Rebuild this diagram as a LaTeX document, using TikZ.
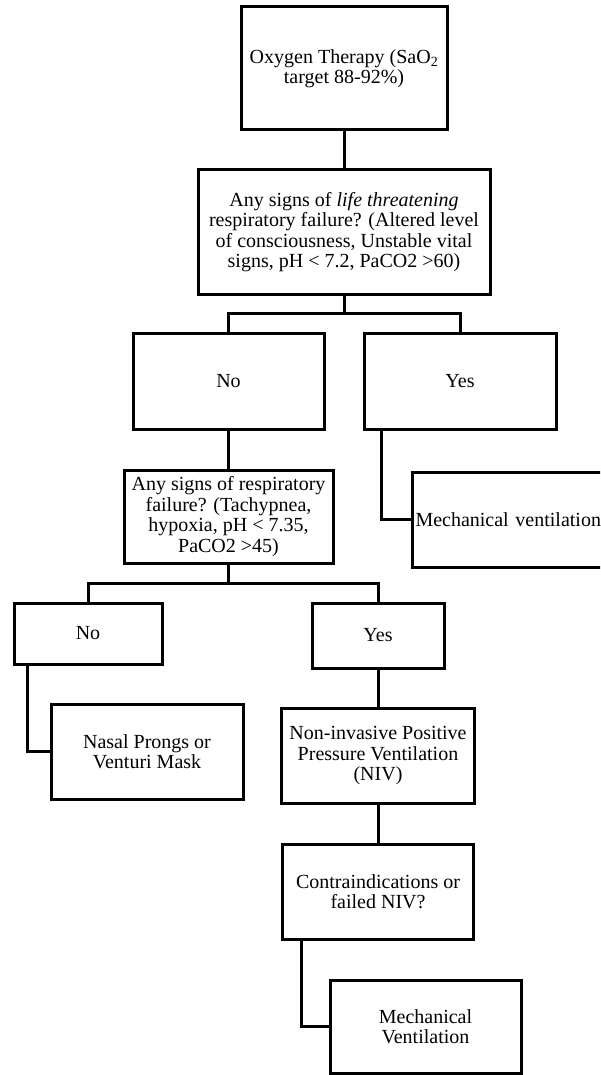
\documentclass[tikz,border=0pt]{standalone}
\usepackage{fontspec}
\setmainfont{Liberation Serif}
\usetikzlibrary{calc}
\tikzset{
  box/.style={draw=black, line width=3pt, fill=white, inner sep=0pt, align=center,
    font=\fontsize{20}{20.5}\selectfont},
  link/.style={draw=black, line width=3pt, line cap=rect},
}
\begin{document}
\begin{tikzpicture}[x=1pt, y=-1pt]
\useasboundingbox (0,0) rectangle (600,1075);
\fill[white] (0,0) rectangle (600,1075);
\begin{scope}
\clip (0,0) rectangle (600,1075);
% nodes
\node[box, minimum width=206pt, minimum height=123pt] (ox) at (344,68.5)
  {Oxygen Therapy (SaO\textsubscript{2}\\target 88-92\%)};
\node[box, minimum width=292pt, minimum height=124pt] (life) at (344,232)
  {Any signs of \textit{life threatening}\\respiratory failure? (Altered level\\of consciousness, Unstable vital\\signs, pH < 7.2, PaCO2 >60)};
\node[box, minimum width=191pt, minimum height=96pt] (no1) at (228.5,381) {No};
\node[box, minimum width=192pt, minimum height=96pt] (yes1) at (460,381) {Yes};
\node[box, minimum width=209pt, minimum height=93pt] (resp) at (228.5,516.5)
  {Any signs of respiratory\\failure? (Tachypnea,\\hypoxia, pH < 7.35,\\PaCO2 >45)};
\node[box, anchor=west, minimum width=200pt, minimum height=95pt, align=left,
  text width=194pt, inner xsep=3pt] (mv1) at (411,519.5) {Mechanical ventilation};
\node[box, minimum width=148pt, minimum height=61pt] (no2) at (88,633.5) {No};
\node[box, minimum width=132pt, minimum height=65pt] (yes2) at (378,635.5) {Yes};
\node[box, minimum width=192pt, minimum height=95pt] (nasal) at (147,751.5)
  {Nasal Prongs or\\Venturi Mask};
\node[box, minimum width=193pt, minimum height=95pt] (niv) at (378,755.5)
  {Non-invasive Positive\\Pressure Ventilation\\(NIV)};
\node[box, minimum width=191pt, minimum height=95pt] (contra) at (378,891.5)
  {Contraindications or\\failed NIV?};
\node[box, minimum width=191pt, minimum height=93pt] (mv2) at (425.5,1026.5)
  {Mechanical\\Ventilation};
% connectors
\coordinate (b1) at (344,313);
\coordinate (b2) at (228.5,583);
\draw[link] (ox) -- (life);
\draw[link] (life.south) -- (b1);
\draw[link] (no1.north) |- (b1) -| (yes1.north);
\draw[link] (no1) -- (resp);
\draw[link] ($(yes1.south west)+(19,0)$) |- (mv1.west);
\draw[link] (resp.south) -- (b2);
\draw[link] (no2.north) |- (b2) -| (yes2.north);
\draw[link] ($(no2.south west)+(15,0)$) |- (nasal.west);
\draw[link] (yes2) -- (niv);
\draw[link] (niv) -- (contra);
\draw[link] ($(contra.south west)+(20,0)$) |- (mv2.west);
\end{scope}
\end{tikzpicture}
\end{document}
